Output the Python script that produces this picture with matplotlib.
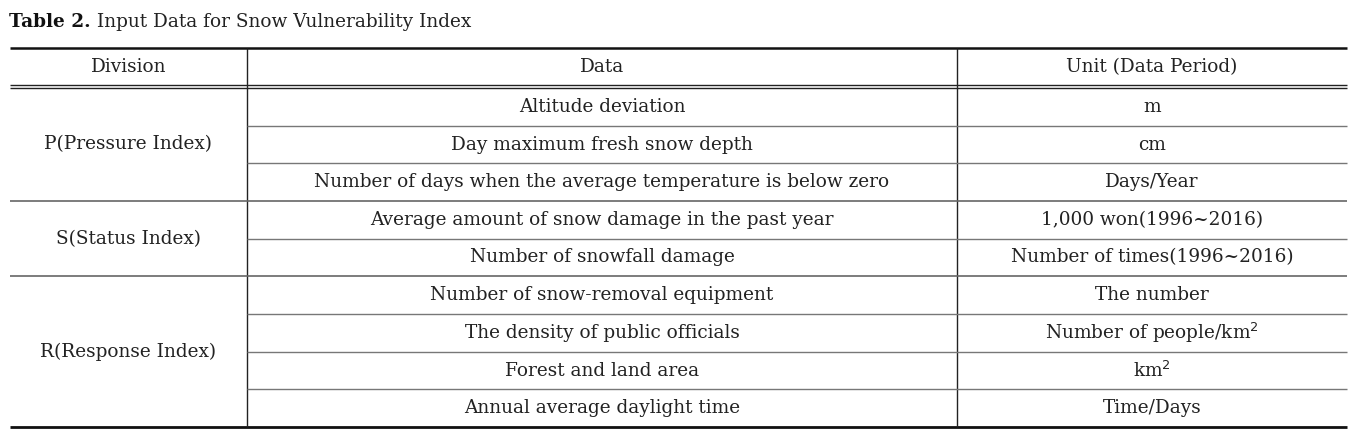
import matplotlib.pyplot as plt

# Table content
title_bold = "Table 2."
title_rest = " Input Data for Snow Vulnerability Index"
headers = ["Division", "Data", "Unit (Data Period)"]
divisions = ["P(Pressure Index)", "S(Status Index)", "R(Response Index)"]
division_rows = [3, 2, 4]
data_items = [
    "Altitude deviation",
    "Day maximum fresh snow depth",
    "Number of days when the average temperature is below zero",
    "Average amount of snow damage in the past year",
    "Number of snowfall damage",
    "Number of snow-removal equipment",
    "The density of public officials",
    "Forest and land area",
    "Annual average daylight time",
]
units = [
    "m",
    "cm",
    "Days/Year",
    "1,000 won(1996~2016)",
    "Number of times(1996~2016)",
    "The number",
    "Number of people/km$^2$",
    "km$^2$",
    "Time/Days",
]

W, H = 1367, 429
fig = plt.figure(figsize=(W / 100, H / 100), dpi=100)
ax = fig.add_axes([0, 0, 1, 1])
ax.set_xlim(0, W)
ax.set_ylim(H, 0)
ax.axis("off")

FONT = "DejaVu Serif"
FS = 13.3
TXT = "#222222"
x_left, x_v1, x_v2, x_right = 10, 247, 957, 1347
y_top, y_head, y_bot = 48, 86.5, 427
row_h = (y_bot - (y_head + 1.5)) / len(data_items)
y0 = y_head + 1.5

# title
t = ax.text(9, 22, title_bold, fontsize=FS, family=FONT, fontweight="bold",
            va="center", ha="left", color="#111111")
fig.canvas.draw()
bb = t.get_window_extent()
x_after = ax.transData.inverted().transform((bb.x1, 0))[0]
ax.text(x_after, 22, title_rest, fontsize=FS, family=FONT,
        va="center", ha="left", color=TXT)

# outer rules
ax.hlines(y_top, x_left, x_right, color="#111111", lw=1.8)
ax.hlines([y_head - 1.5, y_head + 1.5], x_left, x_right, color="#222222", lw=1.0)
ax.hlines(y_bot, x_left, x_right, color="#111111", lw=2.0)
ax.vlines([x_v1, x_v2], y_top, y_bot, color="#222222", lw=1.0)

# headers
head_cy = (y_top + y_head) / 2
for cx, h in zip([(x_left + x_v1) / 2, (x_v1 + x_v2) / 2, (x_v2 + x_right) / 2], headers):
    ax.text(cx, head_cy, h, fontsize=FS, family=FONT, ha="center", va="center", color=TXT)

# body
row = 0
for div, n in zip(divisions, division_rows):
    top = y0 + row * row_h
    bottom = top + n * row_h
    ax.text((x_left + x_v1) / 2, (top + bottom) / 2, div, fontsize=FS, family=FONT,
            ha="center", va="center", color=TXT)
    for i in range(n):
        r = row + i
        cy = y0 + (r + 0.5) * row_h
        ax.text((x_v1 + x_v2) / 2, cy, data_items[r], fontsize=FS, family=FONT,
                ha="center", va="center", color=TXT)
        ax.text((x_v2 + x_right) / 2, cy, units[r], fontsize=FS, family=FONT,
                ha="center", va="center", color=TXT)
        if i < n - 1:
            ax.hlines(y0 + (r + 1) * row_h, x_v1, x_right, color="#777777", lw=1.0)
    row += n
    if row < len(data_items):
        ax.hlines(y0 + row * row_h, x_left, x_right, color="#666666", lw=1.2)

fig.savefig("out.png", dpi=100)
